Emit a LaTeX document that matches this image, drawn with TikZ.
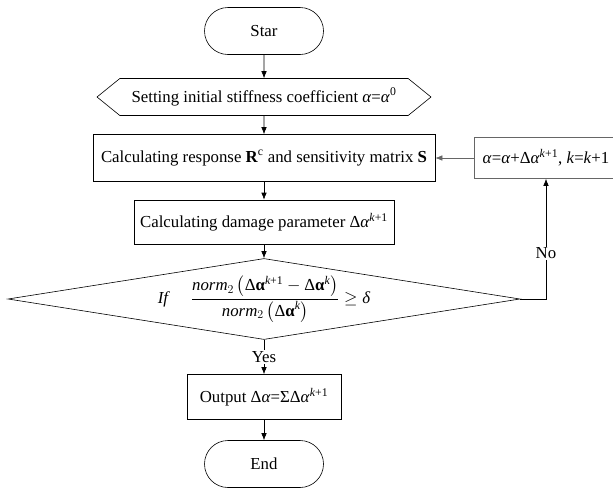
\documentclass[tikz,border=0pt]{standalone}
\usepackage{amsmath}
\usepackage{fontspec}
\setmainfont{Liberation Serif}
\usetikzlibrary{shapes,arrows.meta}

\newcommand{\ga}{\textit{α}}
\newcommand{\dba}{\text{Δ\textbf{α}}}

\begin{document}
\begin{tikzpicture}[->,>={Latex[length=7pt,width=5.5pt]},line width=0.6pt,node distance=64pt,font=\fontsize{16.8}{19}\selectfont]
\tikzstyle{terminal}=[rounded rectangle, draw, minimum width=119pt, minimum height=47pt, inner sep=0pt]
\tikzstyle{process}=[rectangle, draw, minimum height=45pt, inner sep=0pt]
\tikzstyle{prepare}=[signal, signal to=west and east, signal pointer angle=78, draw,
                     minimum width=334pt, minimum height=37pt, inner sep=0pt]
\tikzstyle{decision}=[diamond, draw, aspect=6.3, inner sep=0pt, minimum width=512pt, minimum height=81pt]
\tikzstyle{lbl}=[fill=white, inner sep=1pt]
\clip (0,0) rectangle (613pt,-488pt);
\node[terminal] (start) at (264pt,-31pt) {Star};
\node[prepare][below of=start, node distance=66pt] (init) {Setting initial stiffness coefficient \ga=\ga\textsuperscript{0}};
\node[process][below of=init, node distance=61pt, minimum width=342pt, minimum height=47pt] (calc)
  {Calculating response \textbf{R}\textsuperscript{c} and sensitivity matrix \textbf{S}};
\node[process][below of=calc, minimum width=260pt, minimum height=44pt] (damage)
  {Calculating damage parameter Δ\ga\textsuperscript{\textit{k}+1}};
\node[decision][below of=damage, node distance=77pt] (check)
  {\textit{If}\quad\ $\displaystyle\frac{\textit{norm}_{2}\left(\dba^{\textit{k}\text{+1}}-\dba^{\textit{k}}\right)}{\textit{norm}_{2}\left(\dba^{\textit{k}}\right)}\geq\textit{δ}$};
\node[process][below of=check, node distance=98pt, minimum width=154pt] (output)
  {Output Δ\ga=ΣΔ\ga\textsuperscript{\textit{k}+1}};
\node[terminal][below of=output, node distance=67pt] (end) {End};
\node[process][right of=calc, node distance=282pt, minimum width=144pt, minimum height=41pt, draw=black!60] (update)
  {\ga=\ga+Δ\ga\textsuperscript{\textit{k}+1}, \textit{k}=\textit{k}+1};
\path (start) edge (init)
      (init) edge (calc)
      (calc) edge (damage)
      (damage) edge (check)
      (check) edge node[lbl]{Yes} (output)
      (output) edge (end);
\draw (check.east) -| node[lbl, pos=0.69]{No} (update.south);
\draw[black!60] (update) -- (calc);
\end{tikzpicture}
\end{document}
